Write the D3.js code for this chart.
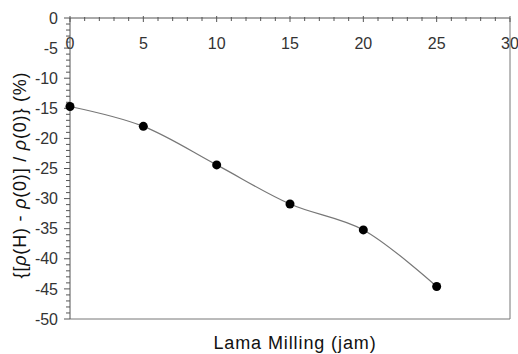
<!DOCTYPE html>
<html>
<head>
<meta charset="utf-8">
<script src="https://cdn.jsdelivr.net/npm/d3@7"></script>
<style>
  body { margin: 0; background: #fff; }
  text { font-family: "Liberation Sans", Arial, sans-serif; fill: #333; }
</style>
</head>
<body>
<svg id="chart" width="518" height="354"></svg>
<script>
const millingHours = [0, 5, 10, 15, 20, 25];
const resistChange = [-14.7, -18.0, -24.4, -30.9, -35.2, -44.6];
const xTicks = [0, 5, 10, 15, 20, 25, 30];
const yTicks = [0, -5, -10, -15, -20, -25, -30, -35, -40, -45, -50];

const plotL = 70, plotR = 510, plotT = 18, plotB = 319;
const svg = d3.select("#chart");

const x = d3.scaleLinear().domain([0, 30]).range([plotL, plotR]);
const y = d3.scaleLinear().domain([0, -50]).range([plotT, plotB]);

// frame: right and bottom edges
svg.append("path")
  .attr("d", `M${plotR},${plotT}V${plotB}H${plotL}`)
  .attr("fill", "none").attr("stroke", "#777").attr("stroke-width", 1);

// x axis along the top (y = 0), minor ticks each 1
const xg = svg.append("g").attr("transform", `translate(0,${plotT})`);
xg.append("line").attr("x1", plotL).attr("x2", plotR).attr("stroke", "#555");
xg.selectAll("line.minor").data(d3.range(0, 31))
  .join("line").attr("class", "minor")
  .attr("x1", d => x(d)).attr("x2", d => x(d))
  .attr("y1", d => d % 5 === 0 ? -2 : -1).attr("y2", d => d % 5 === 0 ? 4 : 3)
  .attr("stroke", "#555");
xg.selectAll("text").data(xTicks).join("text")
  .attr("x", d => x(d)).attr("y", 31)
  .attr("text-anchor", "middle").attr("font-size", 16)
  .text(d => d);

// y axis on the left
const yg = svg.append("g").attr("transform", `translate(${plotL},0)`);
yg.append("line").attr("y1", plotT).attr("y2", plotB).attr("stroke", "#555");
yg.selectAll("line.minor").data(d3.range(0, -51, -1))
  .join("line").attr("class", "minor")
  .attr("y1", d => y(d)).attr("y2", d => y(d))
  .attr("x1", d => d % 5 === 0 ? -6 : -4).attr("x2", 0)
  .attr("stroke", "#555");
yg.selectAll("text").data(yTicks).join("text")
  .attr("x", -12).attr("y", d => y(d)).attr("dy", "0.35em")
  .attr("text-anchor", "end").attr("font-size", 16)
  .text(d => d);

// smoothed line + markers
const pts = millingHours.map((h, i) => [h, resistChange[i]]);
svg.append("path").datum(pts)
  .attr("fill", "none").attr("stroke", "#777").attr("stroke-width", 1.2)
  .attr("d", d3.line().x(d => x(d[0])).y(d => y(d[1])).curve(d3.curveCatmullRom.alpha(0.5)));
svg.selectAll("circle").data(pts).join("circle")
  .attr("cx", d => x(d[0])).attr("cy", d => y(d[1])).attr("r", 4.5)
  .attr("fill", "#000");

// axis titles
svg.append("text")
  .attr("x", 295).attr("y", 349)
  .attr("text-anchor", "middle").attr("font-size", 18)
  .attr("letter-spacing", 0.9).style("fill", "#111")
  .text("Lama Milling (jam)");

const yl = svg.append("text")
  .attr("transform", `translate(26,175) rotate(-90)`)
  .attr("text-anchor", "middle").attr("font-size", 18)
  .attr("letter-spacing", 0.8).style("fill", "#111");
yl.append("tspan").text("{[");
yl.append("tspan").attr("font-style", "italic").text("ρ");
yl.append("tspan").text("(H) - ");
yl.append("tspan").attr("font-style", "italic").text("ρ");
yl.append("tspan").text("(0)] / ");
yl.append("tspan").attr("font-style", "italic").text("ρ");
yl.append("tspan").text("(0)} (%)");
</script>
</body>
</html>
